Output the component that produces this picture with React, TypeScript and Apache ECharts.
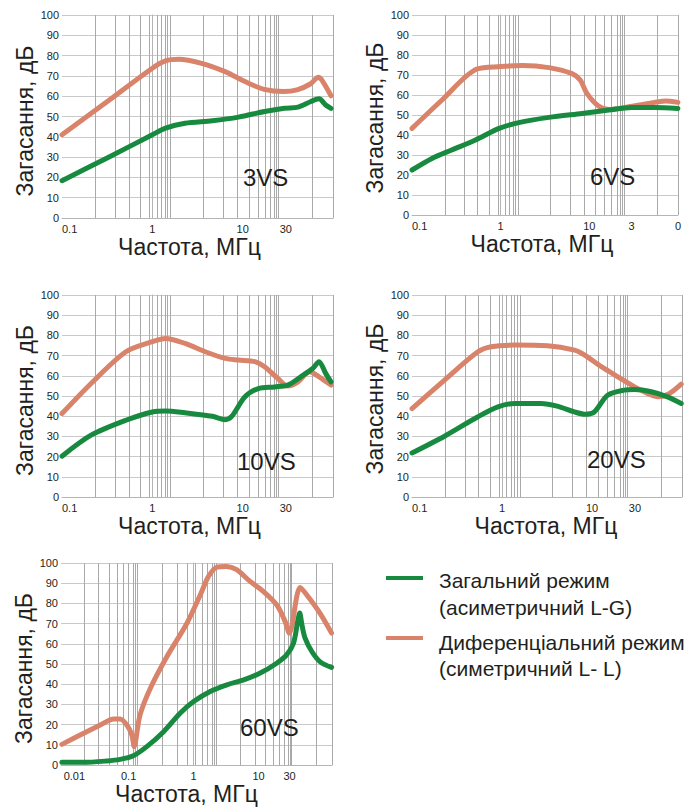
import React, { useEffect, useRef } from 'react';
import * as echarts from 'echarts';

const PANEL_NAMES = ['3VS', '6VS', '10VS', '20VS', '60VS'];
const SERIES_CM = 'Загальний режим (асиметричний L-G)';
const SERIES_DM = 'Диференціальний режим (симетричний L- L)';
const Y_NAME = 'Загасання, дБ';
const X_NAME = 'Частота, МГц';

// 3VS
const F_3VS_CM = [0.1, 0.316, 1, 1.4, 2.3, 4.6, 9, 17.5, 29, 41, 57, 70, 83, 95];
const DB_3VS_CM = [18.4, 29.6, 41, 44.3, 46.7, 47.9, 49.7, 52.5, 54.1, 54.6, 57.4, 58.7, 55.7, 54];
const F_3VS_DM = [0.1, 0.32, 1, 1.4, 1.96, 3.5, 6.4, 10.6, 17.3, 28.3, 40, 56, 69, 75, 95];
const DB_3VS_DM = [41, 57.5, 73.8, 77.4, 78.2, 76.2, 72.1, 67.2, 63.4, 62.3, 63.1, 66, 69.3, 68, 60.2];

// 6VS
const F_6VS_CM = [0.1, 0.168, 0.28, 0.52, 0.96, 1.6, 3.5, 8.3, 16.7, 30, 55, 100];
const DB_6VS_CM = [22.5, 28.3, 32.5, 37.5, 43.3, 46.2, 48.8, 50.8, 52.5, 53.7, 53.8, 53.3];
const F_6VS_DM = [0.1, 0.218, 0.54, 1, 1.75, 3.5, 6.3, 7.9, 9.4, 12.7, 16.7, 25.5, 46.6, 72, 100];
const DB_6VS_DM = [43.3, 57.5, 73, 74.2, 74.7, 73.7, 70.8, 67.5, 60.8, 54.5, 52.8, 53.8, 55.8, 57, 56.3];

// 10VS
const F_10VS_CM = [0.1, 0.21, 0.51, 1, 1.4, 2.3, 4.6, 6.4, 7.6, 10.6, 14.9, 22.6, 31.6, 44, 59.5, 70, 83, 95];
const DB_10VS_CM = [20.2, 30.6, 38, 42.1, 42.6, 41.7, 40, 38.3, 40, 49.6, 53.7, 54.5, 55.4, 59.5, 63.6, 67, 61.2, 57];
const F_10VS_DM = [0.1, 0.21, 0.51, 1, 1.4, 2.3, 3.85, 6.4, 9, 13.7, 17.5, 24.5, 31.6, 41, 55, 70, 95];
const DB_10VS_DM = [41.3, 56.2, 71.9, 76.9, 78.5, 76, 71.9, 68.6, 67.8, 67, 64.5, 58.7, 54.9, 57, 62, 59.5, 55.4];

// 20VS
const F_20VS_CM = [0.1, 0.23, 0.54, 0.9, 1.38, 2.7, 4.1, 6.4, 8.3, 10.6, 14.9, 22.7, 29.7, 45.6, 69, 98];
const DB_20VS_CM = [21.8, 30.1, 39.7, 44.6, 46.3, 46.3, 45, 42.1, 41, 42.1, 50.4, 52.9, 53.2, 52.1, 49.6, 46.3];
const F_20VS_DM = [0.1, 0.23, 0.54, 0.76, 1.38, 3.2, 6.4, 8.3, 12.7, 19.4, 29.7, 42, 53.8, 72, 98];
const DB_20VS_DM = [43.8, 57.9, 71.9, 74.4, 75.2, 74.9, 72.7, 70.2, 64.5, 59.5, 54.5, 51.2, 49.6, 51.2, 55.9];

// 60VS
const F_60VS_CM = [0.0094, 0.02, 0.046, 0.074, 0.118, 0.19, 0.345, 0.62, 1, 1.8, 3.26, 5.9, 10.6, 19, 27, 34.5, 40, 43, 46.5, 52, 66, 88, 133];
const DB_60VS_CM = [1.3, 1.3, 2, 2.8, 4.6, 9.1, 16.5, 25.6, 31.4, 36.4, 39.7, 42.1, 45.5, 50.4, 54.5, 60.3, 71, 75.2, 69.4, 62.8, 56.2, 51.2, 48.3];
const F_60VS_DM = [0.0094, 0.0203, 0.0366, 0.059, 0.074, 0.094, 0.112, 0.122, 0.129, 0.15, 0.216, 0.389, 0.79, 1.27, 1.7, 2.27, 3.2, 4.6, 7.4, 11.8, 19, 25.6, 29.7, 43.7, 55, 88, 133];
const DB_60VS_DM = [10.2, 15.7, 19.8, 22.8, 22.8, 19.8, 14.9, 9.1, 12.4, 24.8, 38, 53.7, 70.2, 84.3, 93.4, 97.9, 98.3, 96.7, 90.9, 86, 79.3, 71.1, 65.3, 87.9, 84.3, 75.2, 65.3];

// x axis ranges (MHz)
const X_RANGE_A = [0.1, 100];
const X_RANGE_60 = [0.0091, 135];

// tick labels
const X_TICKS_A = [0.1, 1, 10, 30];
const X_LABELS_A = ['0.1', '1', '10', '30'];
const X_TICKS_6VS = [0.1, 1, 10, 30, 100];
const X_LABELS_6VS = ['0.1', '1', '10', '3', '0'];
const X_TICKS_60 = [0.01, 0.1, 1, 10, 30];
const X_LABELS_60 = ['0.01', '0.1', '1', '10', '30'];

// vertical grid line positions (MHz)
const GRID_A = [0.232, 0.389, 0.55, 0.743, 0.944, 1.11, 1.26, 1.39, 1.48, 1.57, 3.59, 6.03, 8.71, 11.8, 14.9, 17.9, 20.4, 22.2, 23.7, 24.8, 58.6, 100];
const GRID_60 = [0.0208, 0.0338, 0.0505, 0.0664, 0.0838, 0.1, 0.117, 0.127, 0.1376, 0.327, 0.556, 0.791, 1.06, 1.35, 1.61, 1.92, 2.1, 2.24, 5.22, 8.89, 12.7, 17.0, 21.0, 24.9, 28.9, 30.7, 32.6, 77.3, 135];

const GREEN = '#178a3f';
const ORANGE = '#d9836a';
const FONT = '"Liberation Sans", Arial, sans-serif';

const PANELS = [
  { name: PANEL_NAMES[0], cmF: F_3VS_CM, cmD: DB_3VS_CM, dmF: F_3VS_DM, dmD: DB_3VS_DM, range: X_RANGE_A, ticks: X_TICKS_A, labels: X_LABELS_A, grid: GRID_A },
  { name: PANEL_NAMES[1], cmF: F_6VS_CM, cmD: DB_6VS_CM, dmF: F_6VS_DM, dmD: DB_6VS_DM, range: X_RANGE_A, ticks: X_TICKS_6VS, labels: X_LABELS_6VS, grid: GRID_A },
  { name: PANEL_NAMES[2], cmF: F_10VS_CM, cmD: DB_10VS_CM, dmF: F_10VS_DM, dmD: DB_10VS_DM, range: X_RANGE_A, ticks: X_TICKS_A, labels: X_LABELS_A, grid: GRID_A },
  { name: PANEL_NAMES[3], cmF: F_20VS_CM, cmD: DB_20VS_CM, dmF: F_20VS_DM, dmD: DB_20VS_DM, range: X_RANGE_A, ticks: X_TICKS_A, labels: X_LABELS_A, grid: GRID_A },
  { name: PANEL_NAMES[4], cmF: F_60VS_CM, cmD: DB_60VS_CM, dmF: F_60VS_DM, dmD: DB_60VS_DM, range: X_RANGE_60, ticks: X_TICKS_60, labels: X_LABELS_60, grid: GRID_60 },
];

const LAYOUT = [
  { left: 62, top: 15, width: 271, height: 203, nx: 16, ny: 9, tx: 243, ty: 165 },
  { left: 412, top: 15, width: 266, height: 200, nx: 6, ny: 6, tx: 590, ty: 164 },
  { left: 62, top: 295, width: 271, height: 202, nx: 16, ny: 9, tx: 237, ty: 449 },
  { left: 412, top: 295, width: 270, height: 202, nx: 2, ny: 6, tx: 587, ty: 447 },
  { left: 61, top: 563, width: 271, height: 202, nx: 20, ny: 9, tx: 240, ty: 715 },
];

const lg = (v: number) => Math.log10(v);

export default function App() {
  const ref = useRef<HTMLDivElement>(null);
  useEffect(() => {
    if (!ref.current) return;
    const chart = echarts.init(ref.current, undefined, { renderer: 'svg' });
    const grid: any[] = [];
    const xAxis: any[] = [];
    const yAxis: any[] = [];
    const series: any[] = [];
    const graphic: any[] = [];
    PANELS.forEach((p, i) => {
      const L = LAYOUT[i];
      grid.push({ left: L.left, top: L.top, width: L.width, height: L.height });
      const tickLog = p.ticks.map(lg);
      xAxis.push({
        type: 'value', gridIndex: i, min: lg(p.range[0]), max: lg(p.range[1]),
        name: X_NAME, nameLocation: 'middle', nameGap: 17,
        nameTextStyle: { fontSize: 23, color: '#231f20', fontFamily: FONT, padding: [0, L.nx, 0, 0] },
        axisLine: { show: true, lineStyle: { color: '#b5b5b5', width: 1 } },
        axisTick: { show: false },
        splitLine: { show: false },
        axisLabel: {
          customValues: tickLog,
          alignMinLabel: 'left',
          margin: 5,
          fontSize: 11, color: '#231f20', fontFamily: FONT,
          formatter: (v: number) => {
            let best = 0; let d = Infinity;
            tickLog.forEach((t, k) => { const dd = Math.abs(t - v); if (dd < d) { d = dd; best = k; } });
            return p.labels[best];
          },
        },
      });
      yAxis.push({
        type: 'value', gridIndex: i, min: 0, max: 100, interval: 10,
        name: Y_NAME, nameLocation: 'middle', nameGap: 26,
        nameTextStyle: { fontSize: 23, color: '#231f20', fontFamily: FONT, padding: [0, L.ny, 0, 0] },
        axisLine: { show: true, lineStyle: { color: '#b5b5b5', width: 1 } },
        axisTick: { show: false },
        axisLabel: { fontSize: 11, color: '#231f20', fontFamily: FONT, margin: 3 },
        splitLine: { show: true, lineStyle: { color: '#c9c9c9', width: 1 } },
      });
      series.push({
        type: 'line', xAxisIndex: i, yAxisIndex: i, data: [], silent: true, z: 1,
        markLine: {
          silent: true, symbol: ['none', 'none'], animation: false, z: 1,
          label: { show: false },
          lineStyle: { color: '#a9a9a9', width: 1, type: 'solid' },
          emphasis: { disabled: true },
          data: p.grid.map((f) => ({ xAxis: lg(f) })),
        },
      });
      series.push({
        name: SERIES_DM, type: 'line', xAxisIndex: i, yAxisIndex: i, z: 3,
        data: p.dmF.map((f, k) => [lg(f), p.dmD[k]]),
        smooth: 0.3, showSymbol: false, lineStyle: { color: ORANGE, width: 5, cap: 'round', join: 'round' },
        itemStyle: { color: ORANGE },
      });
      series.push({
        name: SERIES_CM, type: 'line', xAxisIndex: i, yAxisIndex: i, z: 4,
        data: p.cmF.map((f, k) => [lg(f), p.cmD[k]]),
        smooth: 0.3, showSymbol: false, lineStyle: { color: GREEN, width: 5, cap: 'round', join: 'round' },
        itemStyle: { color: GREEN },
      });
      graphic.push({
        type: 'text', x: L.tx, y: L.ty, z: 10,
        style: { text: p.name, fontSize: 24, fill: '#1e1e1e', fontFamily: FONT, verticalAlign: 'top' },
      });
    });
    // legend
    graphic.push({ type: 'line', shape: { x1: 386, y1: 578, x2: 423, y2: 578 }, style: { stroke: GREEN, lineWidth: 4 } });
    graphic.push({ type: 'line', shape: { x1: 386, y1: 638, x2: 423, y2: 638 }, style: { stroke: ORANGE, lineWidth: 4 } });
    const legTexts = [
      ['Загальний режим', 580], ['(асиметричний L-G)', 607],
      ['Диференціальний режим', 642], ['(симетричний L- L)', 668],
    ];
    legTexts.forEach(([t, y]) => {
      graphic.push({
        type: 'text', x: 439, y: y as number,
        style: { text: t as string, fontSize: 21, fill: '#231f20', fontFamily: FONT, verticalAlign: 'middle' },
      });
    });
    chart.setOption({
      animation: false,
      backgroundColor: '#ffffff',
      grid, xAxis, yAxis, series, graphic,
    });
    return () => chart.dispose();
  }, []);
  return <div ref={ref} style={{ position: 'fixed', left: 0, top: 0, width: 684, height: 810 }} />;
}
